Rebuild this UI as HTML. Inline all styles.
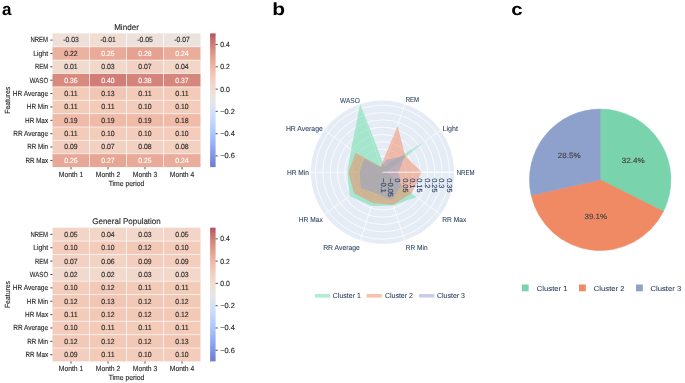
<!DOCTYPE html>
<html><head><meta charset="utf-8"><style>
html,body{margin:0;padding:0;background:#fff;width:685px;height:383px;overflow:hidden;}
svg{display:block;will-change:transform;}
text{font-family:"Liberation Sans",sans-serif;text-rendering:geometricPrecision;}
</style></head><body>
<svg width="685" height="383" viewBox="0 0 685 383" font-family="Liberation Sans, sans-serif">
<rect width="685" height="383" fill="#fff"/>
<text x="2.00" y="14.70" font-size="17" text-anchor="start" fill="#000" font-weight="bold">a</text>
<text transform="translate(272.3,14.7) scale(1.2,1)" font-size="17.5" font-weight="bold" fill="#000">b</text>
<text transform="translate(511.3,14.7) scale(1.2,1)" font-size="17" font-weight="bold" fill="#000">c</text>
<rect x="52.50" y="33.40" width="37.00" height="13.37" fill="#eee0d8"/>
<rect x="89.50" y="33.40" width="37.00" height="13.37" fill="#f0ddd3"/>
<rect x="126.50" y="33.40" width="37.00" height="13.37" fill="#ece1db"/>
<rect x="163.50" y="33.40" width="37.00" height="13.37" fill="#eae3df"/>
<rect x="52.50" y="46.77" width="37.00" height="13.37" fill="#ecb29f"/>
<rect x="89.50" y="46.77" width="37.00" height="13.37" fill="#e9aa99"/>
<rect x="126.50" y="46.77" width="37.00" height="13.37" fill="#e5a291"/>
<rect x="163.50" y="46.77" width="37.00" height="13.37" fill="#eaad9b"/>
<rect x="52.50" y="60.14" width="37.00" height="13.37" fill="#f1dbcf"/>
<rect x="89.50" y="60.14" width="37.00" height="13.37" fill="#f2d8cb"/>
<rect x="126.50" y="60.14" width="37.00" height="13.37" fill="#f3d1c2"/>
<rect x="163.50" y="60.14" width="37.00" height="13.37" fill="#f2d7c9"/>
<rect x="52.50" y="73.51" width="37.00" height="13.37" fill="#d88a7f"/>
<rect x="89.50" y="73.51" width="37.00" height="13.37" fill="#d07e77"/>
<rect x="126.50" y="73.51" width="37.00" height="13.37" fill="#d4847b"/>
<rect x="163.50" y="73.51" width="37.00" height="13.37" fill="#d6877d"/>
<rect x="52.50" y="86.88" width="37.00" height="13.37" fill="#f3cbb9"/>
<rect x="89.50" y="86.88" width="37.00" height="13.37" fill="#f2c6b4"/>
<rect x="126.50" y="86.88" width="37.00" height="13.37" fill="#f3cbb9"/>
<rect x="163.50" y="86.88" width="37.00" height="13.37" fill="#f3cbb9"/>
<rect x="52.50" y="100.25" width="37.00" height="13.37" fill="#f3cbb9"/>
<rect x="89.50" y="100.25" width="37.00" height="13.37" fill="#f3cbb9"/>
<rect x="126.50" y="100.25" width="37.00" height="13.37" fill="#f3ccbc"/>
<rect x="163.50" y="100.25" width="37.00" height="13.37" fill="#f3ccbc"/>
<rect x="52.50" y="113.62" width="37.00" height="13.37" fill="#efbaa7"/>
<rect x="89.50" y="113.62" width="37.00" height="13.37" fill="#efbaa7"/>
<rect x="126.50" y="113.62" width="37.00" height="13.37" fill="#efbaa7"/>
<rect x="163.50" y="113.62" width="37.00" height="13.37" fill="#f0bca9"/>
<rect x="52.50" y="126.99" width="37.00" height="13.37" fill="#f3cbb9"/>
<rect x="89.50" y="126.99" width="37.00" height="13.37" fill="#f3ccbc"/>
<rect x="126.50" y="126.99" width="37.00" height="13.37" fill="#f3ccbc"/>
<rect x="163.50" y="126.99" width="37.00" height="13.37" fill="#f3ccbc"/>
<rect x="52.50" y="140.36" width="37.00" height="13.37" fill="#f3cebe"/>
<rect x="89.50" y="140.36" width="37.00" height="13.37" fill="#f3d1c2"/>
<rect x="126.50" y="140.36" width="37.00" height="13.37" fill="#f3d0c0"/>
<rect x="163.50" y="140.36" width="37.00" height="13.37" fill="#f3d0c0"/>
<rect x="52.50" y="153.73" width="37.00" height="13.37" fill="#e8a897"/>
<rect x="89.50" y="153.73" width="37.00" height="13.37" fill="#e7a694"/>
<rect x="126.50" y="153.73" width="37.00" height="13.37" fill="#e9aa99"/>
<rect x="163.50" y="153.73" width="37.00" height="13.37" fill="#eaad9b"/>
<line x1="89.50" y1="33.4" x2="89.50" y2="167.1" stroke="#fff" stroke-width="0.6"/>
<line x1="126.50" y1="33.4" x2="126.50" y2="167.1" stroke="#fff" stroke-width="0.6"/>
<line x1="163.50" y1="33.4" x2="163.50" y2="167.1" stroke="#fff" stroke-width="0.6"/>
<line x1="52.5" y1="46.77" x2="200.5" y2="46.77" stroke="#fff" stroke-width="0.6"/>
<line x1="52.5" y1="60.14" x2="200.5" y2="60.14" stroke="#fff" stroke-width="0.6"/>
<line x1="52.5" y1="73.51" x2="200.5" y2="73.51" stroke="#fff" stroke-width="0.6"/>
<line x1="52.5" y1="86.88" x2="200.5" y2="86.88" stroke="#fff" stroke-width="0.6"/>
<line x1="52.5" y1="100.25" x2="200.5" y2="100.25" stroke="#fff" stroke-width="0.6"/>
<line x1="52.5" y1="113.62" x2="200.5" y2="113.62" stroke="#fff" stroke-width="0.6"/>
<line x1="52.5" y1="126.99" x2="200.5" y2="126.99" stroke="#fff" stroke-width="0.6"/>
<line x1="52.5" y1="140.36" x2="200.5" y2="140.36" stroke="#fff" stroke-width="0.6"/>
<line x1="52.5" y1="153.73" x2="200.5" y2="153.73" stroke="#fff" stroke-width="0.6"/>
<text x="71.00" y="42.48" font-size="7.4" text-anchor="middle" fill="#262626" stroke="#262626" stroke-width="0.12" textLength="15.52" lengthAdjust="spacingAndGlyphs">-0.03</text>
<text x="108.00" y="42.48" font-size="7.4" text-anchor="middle" fill="#262626" stroke="#262626" stroke-width="0.12" textLength="15.52" lengthAdjust="spacingAndGlyphs">-0.01</text>
<text x="145.00" y="42.48" font-size="7.4" text-anchor="middle" fill="#262626" stroke="#262626" stroke-width="0.12" textLength="15.52" lengthAdjust="spacingAndGlyphs">-0.05</text>
<text x="182.00" y="42.48" font-size="7.4" text-anchor="middle" fill="#262626" stroke="#262626" stroke-width="0.12" textLength="15.52" lengthAdjust="spacingAndGlyphs">-0.07</text>
<text x="71.00" y="55.85" font-size="7.4" text-anchor="middle" fill="#262626" stroke="#262626" stroke-width="0.12" textLength="13.36" lengthAdjust="spacingAndGlyphs">0.22</text>
<text x="108.00" y="55.85" font-size="7.4" text-anchor="middle" fill="#ffffff" stroke="#ffffff" stroke-width="0.12" textLength="13.36" lengthAdjust="spacingAndGlyphs">0.25</text>
<text x="145.00" y="55.85" font-size="7.4" text-anchor="middle" fill="#ffffff" stroke="#ffffff" stroke-width="0.12" textLength="13.36" lengthAdjust="spacingAndGlyphs">0.28</text>
<text x="182.00" y="55.85" font-size="7.4" text-anchor="middle" fill="#ffffff" stroke="#ffffff" stroke-width="0.12" textLength="13.36" lengthAdjust="spacingAndGlyphs">0.24</text>
<text x="71.00" y="69.22" font-size="7.4" text-anchor="middle" fill="#262626" stroke="#262626" stroke-width="0.12" textLength="13.36" lengthAdjust="spacingAndGlyphs">0.01</text>
<text x="108.00" y="69.22" font-size="7.4" text-anchor="middle" fill="#262626" stroke="#262626" stroke-width="0.12" textLength="13.36" lengthAdjust="spacingAndGlyphs">0.03</text>
<text x="145.00" y="69.22" font-size="7.4" text-anchor="middle" fill="#262626" stroke="#262626" stroke-width="0.12" textLength="13.36" lengthAdjust="spacingAndGlyphs">0.07</text>
<text x="182.00" y="69.22" font-size="7.4" text-anchor="middle" fill="#262626" stroke="#262626" stroke-width="0.12" textLength="13.36" lengthAdjust="spacingAndGlyphs">0.04</text>
<text x="71.00" y="82.59" font-size="7.4" text-anchor="middle" fill="#ffffff" stroke="#ffffff" stroke-width="0.12" textLength="13.36" lengthAdjust="spacingAndGlyphs">0.36</text>
<text x="108.00" y="82.59" font-size="7.4" text-anchor="middle" fill="#ffffff" stroke="#ffffff" stroke-width="0.12" textLength="13.36" lengthAdjust="spacingAndGlyphs">0.40</text>
<text x="145.00" y="82.59" font-size="7.4" text-anchor="middle" fill="#ffffff" stroke="#ffffff" stroke-width="0.12" textLength="13.36" lengthAdjust="spacingAndGlyphs">0.38</text>
<text x="182.00" y="82.59" font-size="7.4" text-anchor="middle" fill="#ffffff" stroke="#ffffff" stroke-width="0.12" textLength="13.36" lengthAdjust="spacingAndGlyphs">0.37</text>
<text x="71.00" y="95.97" font-size="7.4" text-anchor="middle" fill="#262626" stroke="#262626" stroke-width="0.12" textLength="13.36" lengthAdjust="spacingAndGlyphs">0.11</text>
<text x="108.00" y="95.97" font-size="7.4" text-anchor="middle" fill="#262626" stroke="#262626" stroke-width="0.12" textLength="13.36" lengthAdjust="spacingAndGlyphs">0.13</text>
<text x="145.00" y="95.97" font-size="7.4" text-anchor="middle" fill="#262626" stroke="#262626" stroke-width="0.12" textLength="13.36" lengthAdjust="spacingAndGlyphs">0.11</text>
<text x="182.00" y="95.97" font-size="7.4" text-anchor="middle" fill="#262626" stroke="#262626" stroke-width="0.12" textLength="13.36" lengthAdjust="spacingAndGlyphs">0.11</text>
<text x="71.00" y="109.34" font-size="7.4" text-anchor="middle" fill="#262626" stroke="#262626" stroke-width="0.12" textLength="13.36" lengthAdjust="spacingAndGlyphs">0.11</text>
<text x="108.00" y="109.34" font-size="7.4" text-anchor="middle" fill="#262626" stroke="#262626" stroke-width="0.12" textLength="13.36" lengthAdjust="spacingAndGlyphs">0.11</text>
<text x="145.00" y="109.34" font-size="7.4" text-anchor="middle" fill="#262626" stroke="#262626" stroke-width="0.12" textLength="13.36" lengthAdjust="spacingAndGlyphs">0.10</text>
<text x="182.00" y="109.34" font-size="7.4" text-anchor="middle" fill="#262626" stroke="#262626" stroke-width="0.12" textLength="13.36" lengthAdjust="spacingAndGlyphs">0.10</text>
<text x="71.00" y="122.71" font-size="7.4" text-anchor="middle" fill="#262626" stroke="#262626" stroke-width="0.12" textLength="13.36" lengthAdjust="spacingAndGlyphs">0.19</text>
<text x="108.00" y="122.71" font-size="7.4" text-anchor="middle" fill="#262626" stroke="#262626" stroke-width="0.12" textLength="13.36" lengthAdjust="spacingAndGlyphs">0.19</text>
<text x="145.00" y="122.71" font-size="7.4" text-anchor="middle" fill="#262626" stroke="#262626" stroke-width="0.12" textLength="13.36" lengthAdjust="spacingAndGlyphs">0.19</text>
<text x="182.00" y="122.71" font-size="7.4" text-anchor="middle" fill="#262626" stroke="#262626" stroke-width="0.12" textLength="13.36" lengthAdjust="spacingAndGlyphs">0.18</text>
<text x="71.00" y="136.07" font-size="7.4" text-anchor="middle" fill="#262626" stroke="#262626" stroke-width="0.12" textLength="13.36" lengthAdjust="spacingAndGlyphs">0.11</text>
<text x="108.00" y="136.07" font-size="7.4" text-anchor="middle" fill="#262626" stroke="#262626" stroke-width="0.12" textLength="13.36" lengthAdjust="spacingAndGlyphs">0.10</text>
<text x="145.00" y="136.07" font-size="7.4" text-anchor="middle" fill="#262626" stroke="#262626" stroke-width="0.12" textLength="13.36" lengthAdjust="spacingAndGlyphs">0.10</text>
<text x="182.00" y="136.07" font-size="7.4" text-anchor="middle" fill="#262626" stroke="#262626" stroke-width="0.12" textLength="13.36" lengthAdjust="spacingAndGlyphs">0.10</text>
<text x="71.00" y="149.44" font-size="7.4" text-anchor="middle" fill="#262626" stroke="#262626" stroke-width="0.12" textLength="13.36" lengthAdjust="spacingAndGlyphs">0.09</text>
<text x="108.00" y="149.44" font-size="7.4" text-anchor="middle" fill="#262626" stroke="#262626" stroke-width="0.12" textLength="13.36" lengthAdjust="spacingAndGlyphs">0.07</text>
<text x="145.00" y="149.44" font-size="7.4" text-anchor="middle" fill="#262626" stroke="#262626" stroke-width="0.12" textLength="13.36" lengthAdjust="spacingAndGlyphs">0.08</text>
<text x="182.00" y="149.44" font-size="7.4" text-anchor="middle" fill="#262626" stroke="#262626" stroke-width="0.12" textLength="13.36" lengthAdjust="spacingAndGlyphs">0.08</text>
<text x="71.00" y="162.81" font-size="7.4" text-anchor="middle" fill="#ffffff" stroke="#ffffff" stroke-width="0.12" textLength="13.36" lengthAdjust="spacingAndGlyphs">0.26</text>
<text x="108.00" y="162.81" font-size="7.4" text-anchor="middle" fill="#ffffff" stroke="#ffffff" stroke-width="0.12" textLength="13.36" lengthAdjust="spacingAndGlyphs">0.27</text>
<text x="145.00" y="162.81" font-size="7.4" text-anchor="middle" fill="#ffffff" stroke="#ffffff" stroke-width="0.12" textLength="13.36" lengthAdjust="spacingAndGlyphs">0.25</text>
<text x="182.00" y="162.81" font-size="7.4" text-anchor="middle" fill="#ffffff" stroke="#ffffff" stroke-width="0.12" textLength="13.36" lengthAdjust="spacingAndGlyphs">0.24</text>
<line x1="50.30" y1="40.09" x2="52.5" y2="40.09" stroke="#262626" stroke-width="0.8"/>
<text x="48.10" y="42.48" font-size="7.4" text-anchor="end" fill="#262626" stroke="#262626" stroke-width="0.12" textLength="17.63" lengthAdjust="spacingAndGlyphs">NREM</text>
<line x1="50.30" y1="53.45" x2="52.5" y2="53.45" stroke="#262626" stroke-width="0.8"/>
<text x="48.10" y="55.85" font-size="7.4" text-anchor="end" fill="#262626" stroke="#262626" stroke-width="0.12" textLength="14.97" lengthAdjust="spacingAndGlyphs">Light</text>
<line x1="50.30" y1="66.82" x2="52.5" y2="66.82" stroke="#262626" stroke-width="0.8"/>
<text x="48.10" y="69.22" font-size="7.4" text-anchor="end" fill="#262626" stroke="#262626" stroke-width="0.12" textLength="13.14" lengthAdjust="spacingAndGlyphs">REM</text>
<line x1="50.30" y1="80.19" x2="52.5" y2="80.19" stroke="#262626" stroke-width="0.8"/>
<text x="48.10" y="82.59" font-size="7.4" text-anchor="end" fill="#262626" stroke="#262626" stroke-width="0.12" textLength="18.24" lengthAdjust="spacingAndGlyphs">WASO</text>
<line x1="50.30" y1="93.56" x2="52.5" y2="93.56" stroke="#262626" stroke-width="0.8"/>
<text x="48.10" y="95.97" font-size="7.4" text-anchor="end" fill="#262626" stroke="#262626" stroke-width="0.12" textLength="35.23" lengthAdjust="spacingAndGlyphs">HR Average</text>
<line x1="50.30" y1="106.94" x2="52.5" y2="106.94" stroke="#262626" stroke-width="0.8"/>
<text x="48.10" y="109.34" font-size="7.4" text-anchor="end" fill="#262626" stroke="#262626" stroke-width="0.12" textLength="21.23" lengthAdjust="spacingAndGlyphs">HR Min</text>
<line x1="50.30" y1="120.31" x2="52.5" y2="120.31" stroke="#262626" stroke-width="0.8"/>
<text x="48.10" y="122.71" font-size="7.4" text-anchor="end" fill="#262626" stroke="#262626" stroke-width="0.12" textLength="22.99" lengthAdjust="spacingAndGlyphs">HR Max</text>
<line x1="50.30" y1="133.67" x2="52.5" y2="133.67" stroke="#262626" stroke-width="0.8"/>
<text x="48.10" y="136.07" font-size="7.4" text-anchor="end" fill="#262626" stroke="#262626" stroke-width="0.12" textLength="34.89" lengthAdjust="spacingAndGlyphs">RR Average</text>
<line x1="50.30" y1="147.04" x2="52.5" y2="147.04" stroke="#262626" stroke-width="0.8"/>
<text x="48.10" y="149.44" font-size="7.4" text-anchor="end" fill="#262626" stroke="#262626" stroke-width="0.12" textLength="20.89" lengthAdjust="spacingAndGlyphs">RR Min</text>
<line x1="50.30" y1="160.41" x2="52.5" y2="160.41" stroke="#262626" stroke-width="0.8"/>
<text x="48.10" y="162.81" font-size="7.4" text-anchor="end" fill="#262626" stroke="#262626" stroke-width="0.12" textLength="22.65" lengthAdjust="spacingAndGlyphs">RR Max</text>
<line x1="71.00" y1="167.10" x2="71.00" y2="169.30" stroke="#262626" stroke-width="0.8"/>
<text x="71.00" y="176.90" font-size="7.4" text-anchor="middle" fill="#262626" stroke="#262626" stroke-width="0.12" textLength="24.53" lengthAdjust="spacingAndGlyphs">Month 1</text>
<line x1="108.00" y1="167.10" x2="108.00" y2="169.30" stroke="#262626" stroke-width="0.8"/>
<text x="108.00" y="176.90" font-size="7.4" text-anchor="middle" fill="#262626" stroke="#262626" stroke-width="0.12" textLength="24.53" lengthAdjust="spacingAndGlyphs">Month 2</text>
<line x1="145.00" y1="167.10" x2="145.00" y2="169.30" stroke="#262626" stroke-width="0.8"/>
<text x="145.00" y="176.90" font-size="7.4" text-anchor="middle" fill="#262626" stroke="#262626" stroke-width="0.12" textLength="24.53" lengthAdjust="spacingAndGlyphs">Month 3</text>
<line x1="182.00" y1="167.10" x2="182.00" y2="169.30" stroke="#262626" stroke-width="0.8"/>
<text x="182.00" y="176.90" font-size="7.4" text-anchor="middle" fill="#262626" stroke="#262626" stroke-width="0.12" textLength="24.53" lengthAdjust="spacingAndGlyphs">Month 4</text>
<text x="126.50" y="186.00" font-size="7.4" text-anchor="middle" fill="#262626" stroke="#262626" stroke-width="0.12" textLength="35.70" lengthAdjust="spacingAndGlyphs">Time period</text>
<text transform="translate(10.3,100.25) rotate(-90)" font-size="7.4" text-anchor="middle" fill="#262626" stroke="#262626" stroke-width="0.12" textLength="27.09" lengthAdjust="spacingAndGlyphs">Features</text>
<text x="126.50" y="29.80" font-size="8.2" text-anchor="middle" fill="#262626" stroke="#262626" stroke-width="0.12" textLength="24.74" lengthAdjust="spacingAndGlyphs">Minder</text>
<defs><linearGradient id="cb33" x1="0" y1="0" x2="0" y2="1"><stop offset="0.0000" stop-color="#b84d62"/><stop offset="0.0417" stop-color="#c56a6c"/><stop offset="0.0833" stop-color="#d07e77"/><stop offset="0.1250" stop-color="#da8f82"/><stop offset="0.1667" stop-color="#e29c8d"/><stop offset="0.2083" stop-color="#e9aa99"/><stop offset="0.2500" stop-color="#eeb6a4"/><stop offset="0.2917" stop-color="#f1c2b0"/><stop offset="0.3333" stop-color="#f3ccbc"/><stop offset="0.3750" stop-color="#f2d5c6"/><stop offset="0.4167" stop-color="#f1dcd1"/><stop offset="0.4583" stop-color="#ece1db"/><stop offset="0.5000" stop-color="#e6e5e5"/><stop offset="0.5417" stop-color="#dee4ee"/><stop offset="0.5833" stop-color="#d4e1f5"/><stop offset="0.6250" stop-color="#cbdcfa"/><stop offset="0.6667" stop-color="#c0d5fe"/><stop offset="0.7083" stop-color="#b5cdff"/><stop offset="0.7500" stop-color="#abc5fe"/><stop offset="0.7917" stop-color="#a0bafb"/><stop offset="0.8333" stop-color="#95aef6"/><stop offset="0.8750" stop-color="#8aa1ef"/><stop offset="0.9167" stop-color="#8095e6"/><stop offset="0.9583" stop-color="#7687dc"/><stop offset="1.0000" stop-color="#6e7bd1"/></linearGradient></defs>
<rect x="210.1" y="33.40" width="5.50" height="133.70" fill="url(#cb33)"/>
<line x1="215.6" y1="44.54" x2="217.79999999999998" y2="44.54" stroke="#262626" stroke-width="0.8"/>
<text x="220.20" y="46.94" font-size="7.4" text-anchor="start" fill="#262626" stroke="#262626" stroke-width="0.12" textLength="9.54" lengthAdjust="spacingAndGlyphs">0.4</text>
<line x1="215.6" y1="66.82" x2="217.79999999999998" y2="66.82" stroke="#262626" stroke-width="0.8"/>
<text x="220.20" y="69.22" font-size="7.4" text-anchor="start" fill="#262626" stroke="#262626" stroke-width="0.12" textLength="9.54" lengthAdjust="spacingAndGlyphs">0.2</text>
<line x1="215.6" y1="89.11" x2="217.79999999999998" y2="89.11" stroke="#262626" stroke-width="0.8"/>
<text x="220.20" y="91.51" font-size="7.4" text-anchor="start" fill="#262626" stroke="#262626" stroke-width="0.12" textLength="9.54" lengthAdjust="spacingAndGlyphs">0.0</text>
<line x1="215.6" y1="111.39" x2="217.79999999999998" y2="111.39" stroke="#262626" stroke-width="0.8"/>
<text x="220.20" y="113.79" font-size="7.4" text-anchor="start" fill="#262626" stroke="#262626" stroke-width="0.12" textLength="14.57" lengthAdjust="spacingAndGlyphs">−0.2</text>
<line x1="215.6" y1="133.67" x2="217.79999999999998" y2="133.67" stroke="#262626" stroke-width="0.8"/>
<text x="220.20" y="136.07" font-size="7.4" text-anchor="start" fill="#262626" stroke="#262626" stroke-width="0.12" textLength="14.57" lengthAdjust="spacingAndGlyphs">−0.4</text>
<line x1="215.6" y1="155.96" x2="217.79999999999998" y2="155.96" stroke="#262626" stroke-width="0.8"/>
<text x="220.20" y="158.36" font-size="7.4" text-anchor="start" fill="#262626" stroke="#262626" stroke-width="0.12" textLength="14.57" lengthAdjust="spacingAndGlyphs">−0.6</text>
<rect x="52.50" y="227.70" width="37.00" height="13.37" fill="#f2d5c6"/>
<rect x="89.50" y="227.70" width="37.00" height="13.37" fill="#f2d7c9"/>
<rect x="126.50" y="227.70" width="37.00" height="13.37" fill="#f2d8cb"/>
<rect x="163.50" y="227.70" width="37.00" height="13.37" fill="#f2d5c6"/>
<rect x="52.50" y="241.07" width="37.00" height="13.37" fill="#f3ccbc"/>
<rect x="89.50" y="241.07" width="37.00" height="13.37" fill="#f3ccbc"/>
<rect x="126.50" y="241.07" width="37.00" height="13.37" fill="#f2c9b7"/>
<rect x="163.50" y="241.07" width="37.00" height="13.37" fill="#f3ccbc"/>
<rect x="52.50" y="254.44" width="37.00" height="13.37" fill="#f3d1c2"/>
<rect x="89.50" y="254.44" width="37.00" height="13.37" fill="#f3d3c4"/>
<rect x="126.50" y="254.44" width="37.00" height="13.37" fill="#f3cebe"/>
<rect x="163.50" y="254.44" width="37.00" height="13.37" fill="#f3cebe"/>
<rect x="52.50" y="267.81" width="37.00" height="13.37" fill="#f2d9cd"/>
<rect x="89.50" y="267.81" width="37.00" height="13.37" fill="#f2d9cd"/>
<rect x="126.50" y="267.81" width="37.00" height="13.37" fill="#f2d8cb"/>
<rect x="163.50" y="267.81" width="37.00" height="13.37" fill="#f2d8cb"/>
<rect x="52.50" y="281.18" width="37.00" height="13.37" fill="#f3ccbc"/>
<rect x="89.50" y="281.18" width="37.00" height="13.37" fill="#f2c9b7"/>
<rect x="126.50" y="281.18" width="37.00" height="13.37" fill="#f3cbb9"/>
<rect x="163.50" y="281.18" width="37.00" height="13.37" fill="#f3cbb9"/>
<rect x="52.50" y="294.55" width="37.00" height="13.37" fill="#f2c9b7"/>
<rect x="89.50" y="294.55" width="37.00" height="13.37" fill="#f2c6b4"/>
<rect x="126.50" y="294.55" width="37.00" height="13.37" fill="#f2c9b7"/>
<rect x="163.50" y="294.55" width="37.00" height="13.37" fill="#f2c9b7"/>
<rect x="52.50" y="307.92" width="37.00" height="13.37" fill="#f3cbb9"/>
<rect x="89.50" y="307.92" width="37.00" height="13.37" fill="#f2c9b7"/>
<rect x="126.50" y="307.92" width="37.00" height="13.37" fill="#f2c9b7"/>
<rect x="163.50" y="307.92" width="37.00" height="13.37" fill="#f2c9b7"/>
<rect x="52.50" y="321.29" width="37.00" height="13.37" fill="#f3ccbc"/>
<rect x="89.50" y="321.29" width="37.00" height="13.37" fill="#f3cbb9"/>
<rect x="126.50" y="321.29" width="37.00" height="13.37" fill="#f3cbb9"/>
<rect x="163.50" y="321.29" width="37.00" height="13.37" fill="#f3cbb9"/>
<rect x="52.50" y="334.66" width="37.00" height="13.37" fill="#f2c9b7"/>
<rect x="89.50" y="334.66" width="37.00" height="13.37" fill="#f2c9b7"/>
<rect x="126.50" y="334.66" width="37.00" height="13.37" fill="#f2c9b7"/>
<rect x="163.50" y="334.66" width="37.00" height="13.37" fill="#f2c6b4"/>
<rect x="52.50" y="348.03" width="37.00" height="13.37" fill="#f3cebe"/>
<rect x="89.50" y="348.03" width="37.00" height="13.37" fill="#f3cbb9"/>
<rect x="126.50" y="348.03" width="37.00" height="13.37" fill="#f3ccbc"/>
<rect x="163.50" y="348.03" width="37.00" height="13.37" fill="#f3ccbc"/>
<line x1="89.50" y1="227.7" x2="89.50" y2="361.4" stroke="#fff" stroke-width="0.6"/>
<line x1="126.50" y1="227.7" x2="126.50" y2="361.4" stroke="#fff" stroke-width="0.6"/>
<line x1="163.50" y1="227.7" x2="163.50" y2="361.4" stroke="#fff" stroke-width="0.6"/>
<line x1="52.5" y1="241.07" x2="200.5" y2="241.07" stroke="#fff" stroke-width="0.6"/>
<line x1="52.5" y1="254.44" x2="200.5" y2="254.44" stroke="#fff" stroke-width="0.6"/>
<line x1="52.5" y1="267.81" x2="200.5" y2="267.81" stroke="#fff" stroke-width="0.6"/>
<line x1="52.5" y1="281.18" x2="200.5" y2="281.18" stroke="#fff" stroke-width="0.6"/>
<line x1="52.5" y1="294.55" x2="200.5" y2="294.55" stroke="#fff" stroke-width="0.6"/>
<line x1="52.5" y1="307.92" x2="200.5" y2="307.92" stroke="#fff" stroke-width="0.6"/>
<line x1="52.5" y1="321.29" x2="200.5" y2="321.29" stroke="#fff" stroke-width="0.6"/>
<line x1="52.5" y1="334.66" x2="200.5" y2="334.66" stroke="#fff" stroke-width="0.6"/>
<line x1="52.5" y1="348.03" x2="200.5" y2="348.03" stroke="#fff" stroke-width="0.6"/>
<text x="71.00" y="236.78" font-size="7.4" text-anchor="middle" fill="#262626" stroke="#262626" stroke-width="0.12" textLength="13.36" lengthAdjust="spacingAndGlyphs">0.05</text>
<text x="108.00" y="236.78" font-size="7.4" text-anchor="middle" fill="#262626" stroke="#262626" stroke-width="0.12" textLength="13.36" lengthAdjust="spacingAndGlyphs">0.04</text>
<text x="145.00" y="236.78" font-size="7.4" text-anchor="middle" fill="#262626" stroke="#262626" stroke-width="0.12" textLength="13.36" lengthAdjust="spacingAndGlyphs">0.03</text>
<text x="182.00" y="236.78" font-size="7.4" text-anchor="middle" fill="#262626" stroke="#262626" stroke-width="0.12" textLength="13.36" lengthAdjust="spacingAndGlyphs">0.05</text>
<text x="71.00" y="250.16" font-size="7.4" text-anchor="middle" fill="#262626" stroke="#262626" stroke-width="0.12" textLength="13.36" lengthAdjust="spacingAndGlyphs">0.10</text>
<text x="108.00" y="250.16" font-size="7.4" text-anchor="middle" fill="#262626" stroke="#262626" stroke-width="0.12" textLength="13.36" lengthAdjust="spacingAndGlyphs">0.10</text>
<text x="145.00" y="250.16" font-size="7.4" text-anchor="middle" fill="#262626" stroke="#262626" stroke-width="0.12" textLength="13.36" lengthAdjust="spacingAndGlyphs">0.12</text>
<text x="182.00" y="250.16" font-size="7.4" text-anchor="middle" fill="#262626" stroke="#262626" stroke-width="0.12" textLength="13.36" lengthAdjust="spacingAndGlyphs">0.10</text>
<text x="71.00" y="263.52" font-size="7.4" text-anchor="middle" fill="#262626" stroke="#262626" stroke-width="0.12" textLength="13.36" lengthAdjust="spacingAndGlyphs">0.07</text>
<text x="108.00" y="263.52" font-size="7.4" text-anchor="middle" fill="#262626" stroke="#262626" stroke-width="0.12" textLength="13.36" lengthAdjust="spacingAndGlyphs">0.06</text>
<text x="145.00" y="263.52" font-size="7.4" text-anchor="middle" fill="#262626" stroke="#262626" stroke-width="0.12" textLength="13.36" lengthAdjust="spacingAndGlyphs">0.09</text>
<text x="182.00" y="263.52" font-size="7.4" text-anchor="middle" fill="#262626" stroke="#262626" stroke-width="0.12" textLength="13.36" lengthAdjust="spacingAndGlyphs">0.09</text>
<text x="71.00" y="276.89" font-size="7.4" text-anchor="middle" fill="#262626" stroke="#262626" stroke-width="0.12" textLength="13.36" lengthAdjust="spacingAndGlyphs">0.02</text>
<text x="108.00" y="276.89" font-size="7.4" text-anchor="middle" fill="#262626" stroke="#262626" stroke-width="0.12" textLength="13.36" lengthAdjust="spacingAndGlyphs">0.02</text>
<text x="145.00" y="276.89" font-size="7.4" text-anchor="middle" fill="#262626" stroke="#262626" stroke-width="0.12" textLength="13.36" lengthAdjust="spacingAndGlyphs">0.03</text>
<text x="182.00" y="276.89" font-size="7.4" text-anchor="middle" fill="#262626" stroke="#262626" stroke-width="0.12" textLength="13.36" lengthAdjust="spacingAndGlyphs">0.03</text>
<text x="71.00" y="290.26" font-size="7.4" text-anchor="middle" fill="#262626" stroke="#262626" stroke-width="0.12" textLength="13.36" lengthAdjust="spacingAndGlyphs">0.10</text>
<text x="108.00" y="290.26" font-size="7.4" text-anchor="middle" fill="#262626" stroke="#262626" stroke-width="0.12" textLength="13.36" lengthAdjust="spacingAndGlyphs">0.12</text>
<text x="145.00" y="290.26" font-size="7.4" text-anchor="middle" fill="#262626" stroke="#262626" stroke-width="0.12" textLength="13.36" lengthAdjust="spacingAndGlyphs">0.11</text>
<text x="182.00" y="290.26" font-size="7.4" text-anchor="middle" fill="#262626" stroke="#262626" stroke-width="0.12" textLength="13.36" lengthAdjust="spacingAndGlyphs">0.11</text>
<text x="71.00" y="303.63" font-size="7.4" text-anchor="middle" fill="#262626" stroke="#262626" stroke-width="0.12" textLength="13.36" lengthAdjust="spacingAndGlyphs">0.12</text>
<text x="108.00" y="303.63" font-size="7.4" text-anchor="middle" fill="#262626" stroke="#262626" stroke-width="0.12" textLength="13.36" lengthAdjust="spacingAndGlyphs">0.13</text>
<text x="145.00" y="303.63" font-size="7.4" text-anchor="middle" fill="#262626" stroke="#262626" stroke-width="0.12" textLength="13.36" lengthAdjust="spacingAndGlyphs">0.12</text>
<text x="182.00" y="303.63" font-size="7.4" text-anchor="middle" fill="#262626" stroke="#262626" stroke-width="0.12" textLength="13.36" lengthAdjust="spacingAndGlyphs">0.12</text>
<text x="71.00" y="317.00" font-size="7.4" text-anchor="middle" fill="#262626" stroke="#262626" stroke-width="0.12" textLength="13.36" lengthAdjust="spacingAndGlyphs">0.11</text>
<text x="108.00" y="317.00" font-size="7.4" text-anchor="middle" fill="#262626" stroke="#262626" stroke-width="0.12" textLength="13.36" lengthAdjust="spacingAndGlyphs">0.12</text>
<text x="145.00" y="317.00" font-size="7.4" text-anchor="middle" fill="#262626" stroke="#262626" stroke-width="0.12" textLength="13.36" lengthAdjust="spacingAndGlyphs">0.12</text>
<text x="182.00" y="317.00" font-size="7.4" text-anchor="middle" fill="#262626" stroke="#262626" stroke-width="0.12" textLength="13.36" lengthAdjust="spacingAndGlyphs">0.12</text>
<text x="71.00" y="330.37" font-size="7.4" text-anchor="middle" fill="#262626" stroke="#262626" stroke-width="0.12" textLength="13.36" lengthAdjust="spacingAndGlyphs">0.10</text>
<text x="108.00" y="330.37" font-size="7.4" text-anchor="middle" fill="#262626" stroke="#262626" stroke-width="0.12" textLength="13.36" lengthAdjust="spacingAndGlyphs">0.11</text>
<text x="145.00" y="330.37" font-size="7.4" text-anchor="middle" fill="#262626" stroke="#262626" stroke-width="0.12" textLength="13.36" lengthAdjust="spacingAndGlyphs">0.11</text>
<text x="182.00" y="330.37" font-size="7.4" text-anchor="middle" fill="#262626" stroke="#262626" stroke-width="0.12" textLength="13.36" lengthAdjust="spacingAndGlyphs">0.11</text>
<text x="71.00" y="343.74" font-size="7.4" text-anchor="middle" fill="#262626" stroke="#262626" stroke-width="0.12" textLength="13.36" lengthAdjust="spacingAndGlyphs">0.12</text>
<text x="108.00" y="343.74" font-size="7.4" text-anchor="middle" fill="#262626" stroke="#262626" stroke-width="0.12" textLength="13.36" lengthAdjust="spacingAndGlyphs">0.12</text>
<text x="145.00" y="343.74" font-size="7.4" text-anchor="middle" fill="#262626" stroke="#262626" stroke-width="0.12" textLength="13.36" lengthAdjust="spacingAndGlyphs">0.12</text>
<text x="182.00" y="343.74" font-size="7.4" text-anchor="middle" fill="#262626" stroke="#262626" stroke-width="0.12" textLength="13.36" lengthAdjust="spacingAndGlyphs">0.13</text>
<text x="71.00" y="357.11" font-size="7.4" text-anchor="middle" fill="#262626" stroke="#262626" stroke-width="0.12" textLength="13.36" lengthAdjust="spacingAndGlyphs">0.09</text>
<text x="108.00" y="357.11" font-size="7.4" text-anchor="middle" fill="#262626" stroke="#262626" stroke-width="0.12" textLength="13.36" lengthAdjust="spacingAndGlyphs">0.11</text>
<text x="145.00" y="357.11" font-size="7.4" text-anchor="middle" fill="#262626" stroke="#262626" stroke-width="0.12" textLength="13.36" lengthAdjust="spacingAndGlyphs">0.10</text>
<text x="182.00" y="357.11" font-size="7.4" text-anchor="middle" fill="#262626" stroke="#262626" stroke-width="0.12" textLength="13.36" lengthAdjust="spacingAndGlyphs">0.10</text>
<line x1="50.30" y1="234.38" x2="52.5" y2="234.38" stroke="#262626" stroke-width="0.8"/>
<text x="48.10" y="236.78" font-size="7.4" text-anchor="end" fill="#262626" stroke="#262626" stroke-width="0.12" textLength="17.63" lengthAdjust="spacingAndGlyphs">NREM</text>
<line x1="50.30" y1="247.75" x2="52.5" y2="247.75" stroke="#262626" stroke-width="0.8"/>
<text x="48.10" y="250.16" font-size="7.4" text-anchor="end" fill="#262626" stroke="#262626" stroke-width="0.12" textLength="14.97" lengthAdjust="spacingAndGlyphs">Light</text>
<line x1="50.30" y1="261.12" x2="52.5" y2="261.12" stroke="#262626" stroke-width="0.8"/>
<text x="48.10" y="263.52" font-size="7.4" text-anchor="end" fill="#262626" stroke="#262626" stroke-width="0.12" textLength="13.14" lengthAdjust="spacingAndGlyphs">REM</text>
<line x1="50.30" y1="274.50" x2="52.5" y2="274.50" stroke="#262626" stroke-width="0.8"/>
<text x="48.10" y="276.89" font-size="7.4" text-anchor="end" fill="#262626" stroke="#262626" stroke-width="0.12" textLength="18.24" lengthAdjust="spacingAndGlyphs">WASO</text>
<line x1="50.30" y1="287.87" x2="52.5" y2="287.87" stroke="#262626" stroke-width="0.8"/>
<text x="48.10" y="290.26" font-size="7.4" text-anchor="end" fill="#262626" stroke="#262626" stroke-width="0.12" textLength="35.23" lengthAdjust="spacingAndGlyphs">HR Average</text>
<line x1="50.30" y1="301.24" x2="52.5" y2="301.24" stroke="#262626" stroke-width="0.8"/>
<text x="48.10" y="303.63" font-size="7.4" text-anchor="end" fill="#262626" stroke="#262626" stroke-width="0.12" textLength="21.23" lengthAdjust="spacingAndGlyphs">HR Min</text>
<line x1="50.30" y1="314.61" x2="52.5" y2="314.61" stroke="#262626" stroke-width="0.8"/>
<text x="48.10" y="317.00" font-size="7.4" text-anchor="end" fill="#262626" stroke="#262626" stroke-width="0.12" textLength="22.99" lengthAdjust="spacingAndGlyphs">HR Max</text>
<line x1="50.30" y1="327.97" x2="52.5" y2="327.97" stroke="#262626" stroke-width="0.8"/>
<text x="48.10" y="330.37" font-size="7.4" text-anchor="end" fill="#262626" stroke="#262626" stroke-width="0.12" textLength="34.89" lengthAdjust="spacingAndGlyphs">RR Average</text>
<line x1="50.30" y1="341.34" x2="52.5" y2="341.34" stroke="#262626" stroke-width="0.8"/>
<text x="48.10" y="343.74" font-size="7.4" text-anchor="end" fill="#262626" stroke="#262626" stroke-width="0.12" textLength="20.89" lengthAdjust="spacingAndGlyphs">RR Min</text>
<line x1="50.30" y1="354.71" x2="52.5" y2="354.71" stroke="#262626" stroke-width="0.8"/>
<text x="48.10" y="357.11" font-size="7.4" text-anchor="end" fill="#262626" stroke="#262626" stroke-width="0.12" textLength="22.65" lengthAdjust="spacingAndGlyphs">RR Max</text>
<line x1="71.00" y1="361.40" x2="71.00" y2="363.60" stroke="#262626" stroke-width="0.8"/>
<text x="71.00" y="371.20" font-size="7.4" text-anchor="middle" fill="#262626" stroke="#262626" stroke-width="0.12" textLength="24.53" lengthAdjust="spacingAndGlyphs">Month 1</text>
<line x1="108.00" y1="361.40" x2="108.00" y2="363.60" stroke="#262626" stroke-width="0.8"/>
<text x="108.00" y="371.20" font-size="7.4" text-anchor="middle" fill="#262626" stroke="#262626" stroke-width="0.12" textLength="24.53" lengthAdjust="spacingAndGlyphs">Month 2</text>
<line x1="145.00" y1="361.40" x2="145.00" y2="363.60" stroke="#262626" stroke-width="0.8"/>
<text x="145.00" y="371.20" font-size="7.4" text-anchor="middle" fill="#262626" stroke="#262626" stroke-width="0.12" textLength="24.53" lengthAdjust="spacingAndGlyphs">Month 3</text>
<line x1="182.00" y1="361.40" x2="182.00" y2="363.60" stroke="#262626" stroke-width="0.8"/>
<text x="182.00" y="371.20" font-size="7.4" text-anchor="middle" fill="#262626" stroke="#262626" stroke-width="0.12" textLength="24.53" lengthAdjust="spacingAndGlyphs">Month 4</text>
<text x="126.50" y="380.30" font-size="7.4" text-anchor="middle" fill="#262626" stroke="#262626" stroke-width="0.12" textLength="35.70" lengthAdjust="spacingAndGlyphs">Time period</text>
<text transform="translate(10.3,294.55) rotate(-90)" font-size="7.4" text-anchor="middle" fill="#262626" stroke="#262626" stroke-width="0.12" textLength="27.09" lengthAdjust="spacingAndGlyphs">Features</text>
<text x="126.50" y="224.10" font-size="8.2" text-anchor="middle" fill="#262626" stroke="#262626" stroke-width="0.12" textLength="68.49" lengthAdjust="spacingAndGlyphs">General Population</text>
<defs><linearGradient id="cb227" x1="0" y1="0" x2="0" y2="1"><stop offset="0.0000" stop-color="#b84d62"/><stop offset="0.0417" stop-color="#c56a6c"/><stop offset="0.0833" stop-color="#d07e77"/><stop offset="0.1250" stop-color="#da8f82"/><stop offset="0.1667" stop-color="#e29c8d"/><stop offset="0.2083" stop-color="#e9aa99"/><stop offset="0.2500" stop-color="#eeb6a4"/><stop offset="0.2917" stop-color="#f1c2b0"/><stop offset="0.3333" stop-color="#f3ccbc"/><stop offset="0.3750" stop-color="#f2d5c6"/><stop offset="0.4167" stop-color="#f1dcd1"/><stop offset="0.4583" stop-color="#ece1db"/><stop offset="0.5000" stop-color="#e6e5e5"/><stop offset="0.5417" stop-color="#dee4ee"/><stop offset="0.5833" stop-color="#d4e1f5"/><stop offset="0.6250" stop-color="#cbdcfa"/><stop offset="0.6667" stop-color="#c0d5fe"/><stop offset="0.7083" stop-color="#b5cdff"/><stop offset="0.7500" stop-color="#abc5fe"/><stop offset="0.7917" stop-color="#a0bafb"/><stop offset="0.8333" stop-color="#95aef6"/><stop offset="0.8750" stop-color="#8aa1ef"/><stop offset="0.9167" stop-color="#8095e6"/><stop offset="0.9583" stop-color="#7687dc"/><stop offset="1.0000" stop-color="#6e7bd1"/></linearGradient></defs>
<rect x="210.1" y="227.70" width="5.50" height="133.70" fill="url(#cb227)"/>
<line x1="215.6" y1="238.84" x2="217.79999999999998" y2="238.84" stroke="#262626" stroke-width="0.8"/>
<text x="220.20" y="241.24" font-size="7.4" text-anchor="start" fill="#262626" stroke="#262626" stroke-width="0.12" textLength="9.54" lengthAdjust="spacingAndGlyphs">0.4</text>
<line x1="215.6" y1="261.12" x2="217.79999999999998" y2="261.12" stroke="#262626" stroke-width="0.8"/>
<text x="220.20" y="263.52" font-size="7.4" text-anchor="start" fill="#262626" stroke="#262626" stroke-width="0.12" textLength="9.54" lengthAdjust="spacingAndGlyphs">0.2</text>
<line x1="215.6" y1="283.41" x2="217.79999999999998" y2="283.41" stroke="#262626" stroke-width="0.8"/>
<text x="220.20" y="285.81" font-size="7.4" text-anchor="start" fill="#262626" stroke="#262626" stroke-width="0.12" textLength="9.54" lengthAdjust="spacingAndGlyphs">0.0</text>
<line x1="215.6" y1="305.69" x2="217.79999999999998" y2="305.69" stroke="#262626" stroke-width="0.8"/>
<text x="220.20" y="308.09" font-size="7.4" text-anchor="start" fill="#262626" stroke="#262626" stroke-width="0.12" textLength="14.57" lengthAdjust="spacingAndGlyphs">−0.2</text>
<line x1="215.6" y1="327.97" x2="217.79999999999998" y2="327.97" stroke="#262626" stroke-width="0.8"/>
<text x="220.20" y="330.37" font-size="7.4" text-anchor="start" fill="#262626" stroke="#262626" stroke-width="0.12" textLength="14.57" lengthAdjust="spacingAndGlyphs">−0.4</text>
<line x1="215.6" y1="350.26" x2="217.79999999999998" y2="350.26" stroke="#262626" stroke-width="0.8"/>
<text x="220.20" y="352.66" font-size="7.4" text-anchor="start" fill="#262626" stroke="#262626" stroke-width="0.12" textLength="14.57" lengthAdjust="spacingAndGlyphs">−0.6</text>
<circle cx="382.5" cy="172.2" r="71.6" fill="#E5ECF6"/>
<circle cx="382.5" cy="172.2" r="1.31" fill="none" stroke="#fff" stroke-width="0.75"/>
<circle cx="382.5" cy="172.2" r="8.60" fill="none" stroke="#fff" stroke-width="0.75"/>
<circle cx="382.5" cy="172.2" r="15.89" fill="none" stroke="#fff" stroke-width="0.75"/>
<circle cx="382.5" cy="172.2" r="23.18" fill="none" stroke="#fff" stroke-width="0.75"/>
<circle cx="382.5" cy="172.2" r="30.47" fill="none" stroke="#fff" stroke-width="0.75"/>
<circle cx="382.5" cy="172.2" r="37.76" fill="none" stroke="#fff" stroke-width="0.75"/>
<circle cx="382.5" cy="172.2" r="45.05" fill="none" stroke="#fff" stroke-width="0.75"/>
<circle cx="382.5" cy="172.2" r="52.34" fill="none" stroke="#fff" stroke-width="0.75"/>
<circle cx="382.5" cy="172.2" r="59.63" fill="none" stroke="#fff" stroke-width="0.75"/>
<circle cx="382.5" cy="172.2" r="66.92" fill="none" stroke="#fff" stroke-width="0.75"/>
<line x1="382.5" y1="172.2" x2="454.10" y2="172.20" stroke="#fff" stroke-width="0.75"/>
<line x1="382.5" y1="172.2" x2="440.43" y2="130.11" stroke="#fff" stroke-width="0.75"/>
<line x1="382.5" y1="172.2" x2="404.63" y2="104.10" stroke="#fff" stroke-width="0.75"/>
<line x1="382.5" y1="172.2" x2="360.37" y2="104.10" stroke="#fff" stroke-width="0.75"/>
<line x1="382.5" y1="172.2" x2="324.57" y2="130.11" stroke="#fff" stroke-width="0.75"/>
<line x1="382.5" y1="172.2" x2="310.90" y2="172.20" stroke="#fff" stroke-width="0.75"/>
<line x1="382.5" y1="172.2" x2="324.57" y2="214.29" stroke="#fff" stroke-width="0.75"/>
<line x1="382.5" y1="172.2" x2="360.37" y2="240.30" stroke="#fff" stroke-width="0.75"/>
<line x1="382.5" y1="172.2" x2="404.63" y2="240.30" stroke="#fff" stroke-width="0.75"/>
<line x1="382.5" y1="172.2" x2="440.43" y2="214.29" stroke="#fff" stroke-width="0.75"/>
<polygon points="386.50,172.20 425.78,140.75 384.35,166.49 360.31,103.91 351.11,149.39 347.50,172.20 349.73,196.01 371.53,205.96 393.32,205.49 416.48,196.89" fill="rgb(101,220,164)" fill-opacity="0.5" stroke="none"/>
<polygon points="421.70,172.20 405.07,155.80 397.58,125.79 380.71,166.68 355.72,152.74 348.50,172.20 354.02,192.89 372.52,202.92 393.10,204.82 411.46,193.24" fill="rgb(243,134,94)" fill-opacity="0.5" stroke="none"/>
<polygon points="398.50,172.20 404.83,155.98 386.52,159.84 380.92,167.35 364.30,158.97 359.60,172.20 360.82,187.95 375.70,193.12 391.46,199.78 401.19,185.78" fill="rgb(141,160,203)" fill-opacity="0.5" stroke="none"/>
<line x1="382.5" y1="172.2" x2="454.1" y2="172.2" stroke="#fff" stroke-width="0.8"/>
<text transform="translate(380.75,178.20) rotate(90)" font-size="7.4" fill="#2a3f5f" stroke="#2a3f5f" stroke-width="0.12">−0.1</text>
<text transform="translate(388.06,178.20) rotate(90)" font-size="7.4" fill="#2a3f5f" stroke="#2a3f5f" stroke-width="0.12">−0.05</text>
<text transform="translate(395.37,178.20) rotate(90)" font-size="7.4" fill="#2a3f5f" stroke="#2a3f5f" stroke-width="0.12">0</text>
<text transform="translate(402.68,178.20) rotate(90)" font-size="7.4" fill="#2a3f5f" stroke="#2a3f5f" stroke-width="0.12">0.05</text>
<text transform="translate(409.99,178.20) rotate(90)" font-size="7.4" fill="#2a3f5f" stroke="#2a3f5f" stroke-width="0.12">0.1</text>
<text transform="translate(417.30,178.20) rotate(90)" font-size="7.4" fill="#2a3f5f" stroke="#2a3f5f" stroke-width="0.12">0.15</text>
<text transform="translate(424.61,178.20) rotate(90)" font-size="7.4" fill="#2a3f5f" stroke="#2a3f5f" stroke-width="0.12">0.2</text>
<text transform="translate(431.92,178.20) rotate(90)" font-size="7.4" fill="#2a3f5f" stroke="#2a3f5f" stroke-width="0.12">0.25</text>
<text transform="translate(439.23,178.20) rotate(90)" font-size="7.4" fill="#2a3f5f" stroke="#2a3f5f" stroke-width="0.12">0.3</text>
<text transform="translate(446.54,178.20) rotate(90)" font-size="7.4" fill="#2a3f5f" stroke="#2a3f5f" stroke-width="0.12">0.35</text>
<text x="456.70" y="174.80" font-size="7.2" text-anchor="start" fill="#2a3f5f" stroke="#2a3f5f" stroke-width="0.07" textLength="17.9" lengthAdjust="spacingAndGlyphs">NREM</text>
<text x="442.60" y="130.70" font-size="7.2" text-anchor="start" fill="#2a3f5f" stroke="#2a3f5f" stroke-width="0.07" textLength="15.3" lengthAdjust="spacingAndGlyphs">Light</text>
<text x="405.70" y="102.40" font-size="7.2" text-anchor="start" fill="#2a3f5f" stroke="#2a3f5f" stroke-width="0.07" textLength="13.5" lengthAdjust="spacingAndGlyphs">REM</text>
<text x="340.10" y="102.70" font-size="7.2" text-anchor="start" fill="#2a3f5f" stroke="#2a3f5f" stroke-width="0.07" textLength="19.7" lengthAdjust="spacingAndGlyphs">WASO</text>
<text x="285.90" y="130.70" font-size="7.2" text-anchor="start" fill="#2a3f5f" stroke="#2a3f5f" stroke-width="0.07" textLength="36.9" lengthAdjust="spacingAndGlyphs">HR Average</text>
<text x="286.90" y="175.00" font-size="7.2" text-anchor="start" fill="#2a3f5f" stroke="#2a3f5f" stroke-width="0.07" textLength="22" lengthAdjust="spacingAndGlyphs">HR Min</text>
<text x="298.80" y="221.70" font-size="7.2" text-anchor="start" fill="#2a3f5f" stroke="#2a3f5f" stroke-width="0.07" textLength="24.1" lengthAdjust="spacingAndGlyphs">HR Max</text>
<text x="323.20" y="249.70" font-size="7.2" text-anchor="start" fill="#2a3f5f" stroke="#2a3f5f" stroke-width="0.07" textLength="36.7" lengthAdjust="spacingAndGlyphs">RR Average</text>
<text x="405.70" y="249.70" font-size="7.2" text-anchor="start" fill="#2a3f5f" stroke="#2a3f5f" stroke-width="0.07" textLength="21.9" lengthAdjust="spacingAndGlyphs">RR Min</text>
<text x="442.30" y="221.50" font-size="7.2" text-anchor="start" fill="#2a3f5f" stroke="#2a3f5f" stroke-width="0.07" textLength="23.9" lengthAdjust="spacingAndGlyphs">RR Max</text>
<rect x="314.9" y="294" width="15.3" height="3.6" fill="rgb(101,220,164)" fill-opacity="0.5"/>
<text x="332.80" y="298.40" font-size="7.2" text-anchor="start" fill="#2a3f5f" stroke="#2a3f5f" stroke-width="0.07" textLength="28" lengthAdjust="spacingAndGlyphs">Cluster 1</text>
<rect x="366.5" y="294" width="15.3" height="3.6" fill="rgb(243,134,94)" fill-opacity="0.5"/>
<text x="384.90" y="298.40" font-size="7.2" text-anchor="start" fill="#2a3f5f" stroke="#2a3f5f" stroke-width="0.07" textLength="28" lengthAdjust="spacingAndGlyphs">Cluster 2</text>
<rect x="419.1" y="294" width="15.3" height="3.6" fill="rgb(141,160,203)" fill-opacity="0.5"/>
<text x="437.00" y="298.40" font-size="7.2" text-anchor="start" fill="#2a3f5f" stroke="#2a3f5f" stroke-width="0.07" textLength="28" lengthAdjust="spacingAndGlyphs">Cluster 3</text>
<path d="M600.2,179.8 L600.20,109.10 A70.7,70.7 0 0 1 663.39,211.50 Z" fill="rgb(121,211,172)" stroke="rgb(121,211,172)" stroke-width="0.6" stroke-linejoin="round"/>
<path d="M600.2,179.8 L663.39,211.50 A70.7,70.7 0 0 1 531.20,195.22 Z" fill="rgb(239,138,101)" stroke="rgb(239,138,101)" stroke-width="0.6" stroke-linejoin="round"/>
<path d="M600.2,179.8 L531.20,195.22 A70.7,70.7 0 0 1 600.20,109.10 Z" fill="rgb(141,161,204)" stroke="rgb(141,161,204)" stroke-width="0.6" stroke-linejoin="round"/>
<text x="557.80" y="157.70" font-size="7.5" text-anchor="start" fill="#444" stroke="#444" stroke-width="0.15" textLength="22.8" lengthAdjust="spacingAndGlyphs">28.5%</text>
<text x="621.70" y="162.80" font-size="7.5" text-anchor="start" fill="#444" stroke="#444" stroke-width="0.15" textLength="23" lengthAdjust="spacingAndGlyphs">32.4%</text>
<text x="584.50" y="218.80" font-size="7.5" text-anchor="start" fill="#444" stroke="#444" stroke-width="0.15" textLength="22.6" lengthAdjust="spacingAndGlyphs">39.1%</text>
<rect x="521.8" y="284.5" width="6.8" height="6.8" fill="rgb(121,211,172)"/>
<text x="536.80" y="290.60" font-size="7.2" text-anchor="start" fill="#2a3f5f" stroke="#2a3f5f" stroke-width="0.07" textLength="30.7" lengthAdjust="spacingAndGlyphs">Cluster 1</text>
<rect x="579" y="284.5" width="6.8" height="6.8" fill="rgb(239,138,101)"/>
<text x="593.80" y="290.60" font-size="7.2" text-anchor="start" fill="#2a3f5f" stroke="#2a3f5f" stroke-width="0.07" textLength="30.7" lengthAdjust="spacingAndGlyphs">Cluster 2</text>
<rect x="636" y="284.5" width="6.8" height="6.8" fill="rgb(141,161,204)"/>
<text x="650.50" y="290.60" font-size="7.2" text-anchor="start" fill="#2a3f5f" stroke="#2a3f5f" stroke-width="0.07" textLength="30.7" lengthAdjust="spacingAndGlyphs">Cluster 3</text>
</svg>
</body></html>
